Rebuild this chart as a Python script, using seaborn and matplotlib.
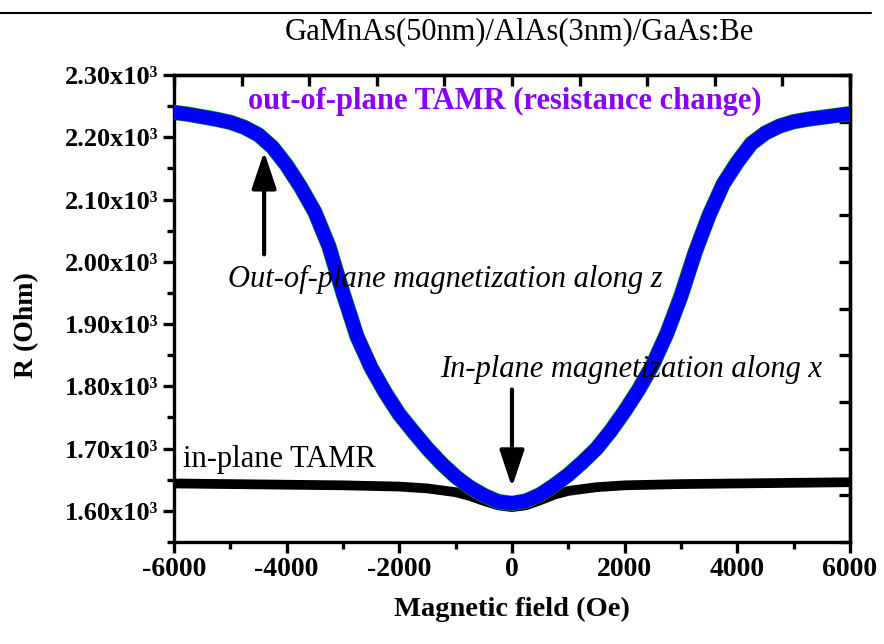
import matplotlib
matplotlib.use("Agg")
import matplotlib.pyplot as plt
from matplotlib.lines import Line2D
from matplotlib.ticker import MultipleLocator, FixedLocator, FuncFormatter, NullFormatter
import pandas as pd
import seaborn as sns

# out-of-plane sweep: field (Oe) and resistance (Ohm)
field_oop = [-6000, -5750, -5500, -5250, -5000, -4750, -4500, -4250, -4000, -3750,
             -3500, -3250, -3000, -2750, -2500, -2250, -2000, -1750, -1500, -1250,
             -1000, -750, -500, -250, 0, 250, 500, 750, 1000, 1250,
             1500, 1750, 2000, 2250, 2500, 2750, 3000, 3250, 3500, 3750,
             4000, 4250, 4500, 4750, 5000, 5250, 5500, 5750, 6000]
r_oop = [2240, 2237, 2233, 2229, 2224, 2216, 2204, 2184, 2155, 2120,
         2080, 2025, 1950, 1880, 1830, 1790, 1755, 1727, 1700, 1676,
         1655, 1638, 1625, 1615, 1612, 1616, 1626, 1641, 1658, 1678,
         1700, 1728, 1760, 1795, 1835, 1885, 1945, 2015, 2075, 2125,
         2160, 2190, 2207, 2218, 2225, 2229, 2232, 2235, 2238]

# in-plane sweep
field_ip = [-6000, -5000, -4000, -3000, -2000, -1500, -1000, -750, -500, -250, 0,
            250, 500, 750, 1000, 1500, 2000, 3000, 4000, 5000, 6000]
r_ip = [1644, 1643, 1642, 1641, 1639, 1636, 1630, 1624, 1616, 1609, 1606,
        1609, 1617, 1626, 1632, 1638, 1641, 1643, 1644, 1645, 1646]

x_ticks = [-6000, -4000, -2000, 0, 2000, 4000, 6000]
y_ticks = [1600, 1700, 1800, 1900, 2000, 2100, 2200, 2300]

sns.set_theme(style="ticks")
plt.rcParams["font.family"] = ["Liberation Serif", "DejaVu Serif"]
plt.rcParams.update({"text.color": "black", "axes.labelcolor": "black",
                     "xtick.color": "black", "ytick.color": "black"})

df_oop = pd.DataFrame({"H": field_oop, "R": r_oop})
df_ip = pd.DataFrame({"H": field_ip, "R": r_ip})

fig = plt.figure(figsize=(8.84, 6.44), dpi=100)
ax = fig.add_axes([0.1968, 0.1584, 0.7647, 0.7251])

sns.lineplot(data=df_ip, x="H", y="R", ax=ax, color="black", lw=7,
             sort=False, estimator=None, solid_capstyle="butt", zorder=2)
sns.lineplot(data=df_oop, x="H", y="R", ax=ax, color="#0a8a0a", lw=11,
             sort=False, estimator=None, solid_joinstyle="round", zorder=3)
sns.lineplot(data=df_oop, x="H", y="R", ax=ax, color="#0000ff", lw=10,
             sort=False, estimator=None, solid_joinstyle="round", zorder=4)

ax.set_xlim(-6000, 6000)
ax.set_ylim(1550, 2300)

ax.xaxis.set_major_locator(FixedLocator(x_ticks))
ax.xaxis.set_minor_locator(MultipleLocator(1000))
ax.yaxis.set_major_locator(FixedLocator(y_ticks))
ax.yaxis.set_minor_locator(MultipleLocator(50))
ax.yaxis.set_major_formatter(FuncFormatter(lambda v, p: f"{v/1000:.2f}x10\u00b3"))
ax.xaxis.set_major_formatter(FuncFormatter(lambda v, p: f"{int(v)}"))

for s in ax.spines.values():
    s.set_linewidth(2.4)
    s.set_color("black")
ax.tick_params(axis="both", which="major", direction="out", length=8, width=2.4,
               color="black", labelcolor="black", pad=3)
ax.tick_params(axis="both", which="minor", direction="out", length=5, width=2.4,
               color="black")
for lab in ax.get_xticklabels():
    lab.set_fontweight("bold")
    lab.set_fontsize(20)
for lab in ax.get_yticklabels():
    lab.set_fontweight("bold")
    lab.set_fontsize(19)

# top and right axes: ten equal divisions, ticks pointing in
top = ax.secondary_xaxis("top")
top.xaxis.set_major_locator(MultipleLocator(1200))
top.xaxis.set_major_formatter(NullFormatter())
top.tick_params(direction="in", length=8, width=2.4, color="black")
top.spines["top"].set_linewidth(2.4)
right = ax.secondary_yaxis("right")
right.yaxis.set_major_locator(FixedLocator([1550 + 75 * k for k in range(11)]))
right.yaxis.set_major_formatter(NullFormatter())
right.tick_params(direction="in", length=8, width=2.4, color="black")
right.spines["right"].set_linewidth(2.4)

ax.set_xlabel("Magnetic field (Oe)", fontsize=20.5, fontweight="bold", color="black")
ax.set_ylabel("R (Ohm)", fontsize=20, fontweight="bold", color="black")
ax.xaxis.set_label_coords(0.5, -0.118)
ax.yaxis.set_label_coords(-0.20, 0.465)

ax.text(-133, 2257, "out-of-plane TAMR (resistance change)", color="#8a00ff",
        fontsize=22, fontweight="bold", ha="center", va="center", zorder=5)
ax.text(-1190, 1971, "Out-of-plane magnetization along z", fontsize=22,
        style="italic", ha="center", va="center", color="black", zorder=5)
ax.text(2113, 1827, "In-plane magnetization along x", fontsize=22,
        style="italic", ha="center", va="center", color="black", zorder=5)
ax.text(-5840, 1683, "in-plane TAMR", fontsize=22, ha="left", va="center",
        color="black", zorder=5)

arrow = dict(arrowstyle="-|>,head_length=0.9,head_width=0.3", lw=3, color="black",
             mutation_scale=25, shrinkA=0, shrinkB=0)
ax.annotate("", xy=(-4400, 2177), xytext=(-4400, 2012), arrowprops=arrow, zorder=6)
ax.annotate("", xy=(0, 1638), xytext=(0, 1795), arrowprops=arrow, zorder=6)

fig.text(0.588, 1 - 32 / 644, "GaMnAs(50nm)/AlAs(3nm)/GaAs:Be", fontsize=22,
         ha="center", va="center", color="black")
fig.add_artist(Line2D([0.0, 0.985], [1 - 13 / 644, 1 - 13 / 644], color="black", lw=1.5))

fig.savefig("out.png", dpi=100)
